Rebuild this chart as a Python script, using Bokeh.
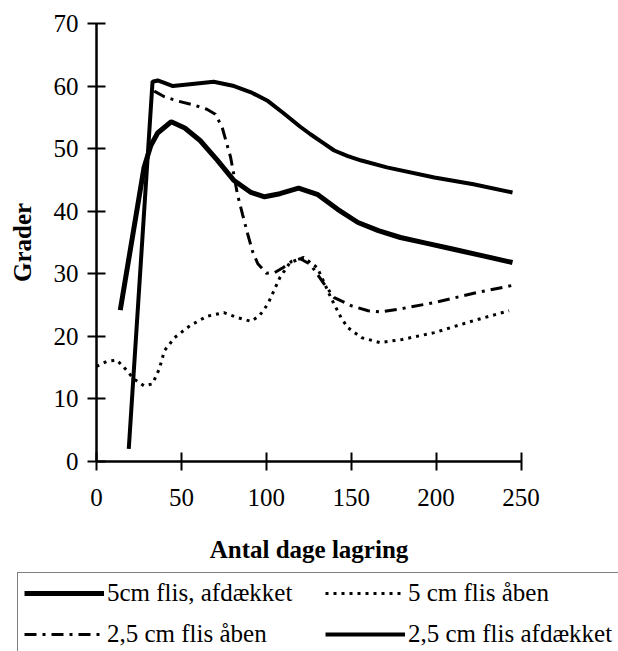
from bokeh.plotting import figure
from bokeh.models import Legend, LegendItem, FixedTicker, Range1d
from bokeh.embed import file_html
from bokeh.resources import INLINE

# ---- data ----
# 5cm flis, afdækket (thick solid)
x_5_afd = [14, 28, 32, 36, 44, 52, 61, 71, 81, 91, 99, 108, 119, 130, 142, 154, 166, 179, 194, 209, 227, 245]
y_5_afd = [24.2, 47.0, 50.5, 52.5, 54.3, 53.3, 51.3, 48.2, 44.9, 43.0, 42.3, 42.8, 43.7, 42.7, 40.3, 38.2, 36.9, 35.8, 34.9, 34.0, 32.9, 31.8]

# 5 cm flis åben (dotted)
x_5_aab = [0, 6, 12, 16, 22, 28, 33, 37, 40, 46, 55, 65, 75, 83, 91, 96, 101, 108, 114, 122, 130, 138, 144, 148, 156, 167, 180, 199, 222, 243]
y_5_aab = [15.2, 16.0, 16.2, 15.1, 13.2, 12.1, 12.4, 14.8, 17.7, 19.8, 21.7, 23.2, 23.8, 23.0, 22.4, 23.3, 25.2, 29.4, 31.8, 32.6, 31.0, 26.2, 23.0, 21.4, 19.8, 19.0, 19.5, 20.6, 22.5, 24.1]

# 2,5 cm flis åben (dash-dot)
x_25_aab = [34, 40, 48, 57, 65, 70, 74, 79, 83, 86, 89, 92, 95, 100, 105, 110, 115, 120, 126, 134, 140, 150, 160, 167, 179, 199, 224, 246]
y_25_aab = [59.2, 58.3, 57.6, 57.0, 56.3, 55.5, 53.4, 48.6, 42.7, 39.5, 36.4, 33.5, 31.6, 30.1, 30.2, 31.0, 32.0, 32.4, 31.5, 28.4, 26.2, 24.9, 24.1, 23.9, 24.4, 25.4, 27.0, 28.2]

# 2,5 cm flis afdækket (solid)
x_25_afd = [19, 33, 36, 40, 45, 55, 69, 81, 91, 101, 110, 120, 126, 133, 140, 148, 156, 171, 199, 222, 245]
y_25_afd = [2.0, 60.7, 60.9, 60.5, 60.0, 60.3, 60.7, 60.0, 59.0, 57.6, 55.7, 53.5, 52.3, 51.0, 49.7, 48.8, 48.1, 47.0, 45.4, 44.3, 43.0]

x_ticks = [0, 50, 100, 150, 200, 250]
y_ticks = [0, 10, 20, 30, 40, 50, 60, 70]
x_title = "Antal dage lagring"
y_title = "Grader"
labels = ["5cm flis, afdækket", "5 cm flis åben", "2,5 cm flis åben", "2,5 cm flis afdækket"]

FONT = "Liberation Serif"
FS = "25px"

STYLES = [dict(line_color="black", line_width=5),
          dict(line_color="black", line_width=3, line_dash="3 5"),
          dict(line_color="black", line_width=3, line_dash="12 6 3 6"),
          dict(line_color="black", line_width=4)]

# page geometry: the frame covers the whole canvas; the visible axes sit at
# x=0 / y=0 so that there is room for the legend strip underneath
W, H = 618, 651
PX_LEFT, PX_RIGHT, PX_TOP, PX_BOTTOM = 96.0, 520.5, 23.0, 461.0
sx = (PX_RIGHT - PX_LEFT) / (x_ticks[-1] - x_ticks[0])
sy = (PX_BOTTOM - PX_TOP) / (y_ticks[-1] - y_ticks[0])
xr = Range1d(x_ticks[0] - PX_LEFT / sx, x_ticks[-1] + (W - PX_RIGHT) / sx)
yr = Range1d(y_ticks[0] - (H - PX_BOTTOM) / sy, y_ticks[-1] + PX_TOP / sy)

p = figure(width=W, height=H, x_range=xr, y_range=yr,
           output_backend="svg", toolbar_location=None,
           min_border=0, min_border_left=0, min_border_right=0,
           min_border_top=0, min_border_bottom=0)
p.outline_line_color = None
p.grid.grid_line_color = None
p.background_fill_color = "white"
p.border_fill_color = "white"

r = [p.line(x_5_afd, y_5_afd, **STYLES[0]),
     p.line(x_5_aab, y_5_aab, **STYLES[1]),
     p.line(x_25_aab, y_25_aab, **STYLES[2]),
     p.line(x_25_afd, y_25_afd, **STYLES[3])]

for ax in (p.xaxis[0], p.yaxis[0]):
    ax.fixed_location = 0
    ax.axis_line_width = 2.5
    ax.axis_line_color = "black"
    ax.major_tick_line_width = 2
    ax.major_tick_line_color = "black"
    ax.major_tick_in = 9
    ax.major_tick_out = 9
    ax.minor_tick_line_color = None
    ax.major_label_text_font = FONT
    ax.major_label_text_font_size = FS
    ax.major_label_text_color = "black"
    ax.axis_label_text_font = FONT
    ax.axis_label_text_font_size = FS
    ax.axis_label_text_font_style = "bold"
    ax.axis_label_text_color = "black"

p.xaxis[0].bounds = (x_ticks[0], x_ticks[-1])
p.yaxis[0].bounds = (y_ticks[0], y_ticks[-1])
p.xaxis[0].ticker = FixedTicker(ticks=x_ticks)
p.yaxis[0].ticker = FixedTicker(ticks=y_ticks)
p.xaxis[0].axis_label = x_title
p.yaxis[0].axis_label = y_title
p.xaxis[0].major_label_standoff = 18
p.yaxis[0].major_label_standoff = 9
p.xaxis[0].axis_label_standoff = 27
p.yaxis[0].axis_label_standoff = 15

# column-major fill: column 1 = items 0, 2 ; column 2 = items 1, 3
order = [0, 2, 1, 3]
legend = Legend(items=[LegendItem(label=labels[i], renderers=[r[i]]) for i in order],
                location=(17, -4), ncols=2, orientation="vertical",
                glyph_width=80, glyph_height=28, label_height=28, label_width=205,
                label_standoff=3, spacing=13, padding=6, margin=0,
                label_text_font=FONT, label_text_font_size=FS, label_text_color="black",
                border_line_color="black", border_line_width=1.5,
                background_fill_color="white", background_fill_alpha=1)
p.add_layout(legend, "center")

open("out.html", "w").write(file_html(p, INLINE))
